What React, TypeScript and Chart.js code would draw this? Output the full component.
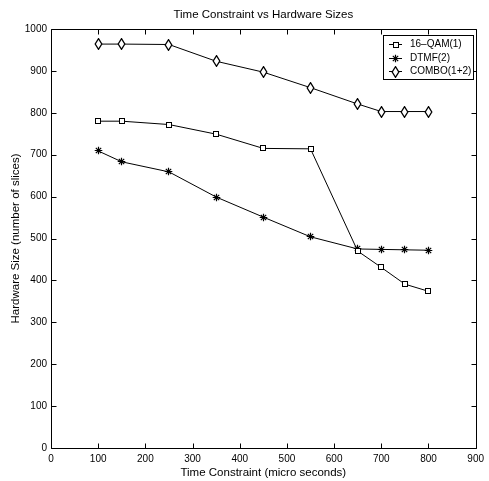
import React, { useEffect, useRef } from 'react';
import { Chart, registerables } from 'chart.js';

Chart.register(...registerables);

const xValues = [100, 150, 250, 350, 450, 550, 650, 700, 750, 800];
const qamValues = [780, 780, 772, 749, 715, 714, 470, 431, 391, 374];
const dtmfValues = [709, 683, 659, 599, 551, 504, 475, 474, 473, 472];
const comboValues = [964, 964, 963, 923, 897, 860, 821, 803, 803, 803];
const seriesNames = ['16\u2013QAM(1)', 'DTMF(2)', 'COMBO(1+2)'];
const xTickValues = [0, 100, 200, 300, 400, 500, 600, 700, 800, 900];
const yTickValues = [0, 100, 200, 300, 400, 500, 600, 700, 800, 900, 1000];
const titleText = 'Time Constraint vs Hardware Sizes';
const xTitle = 'Time Constraint (micro seconds)';
const yTitle = 'Hardware Size (number of slices)';

const FONT = '"Liberation Sans", Arial, Helvetica, sans-serif';

function makeSquare(): HTMLCanvasElement {
  const c = document.createElement('canvas');
  c.width = 8; c.height = 8;
  const g = c.getContext('2d')!;
  g.fillStyle = '#fff';
  g.fillRect(1, 1, 6, 6);
  g.strokeStyle = '#000';
  g.lineWidth = 1;
  g.strokeRect(1.5, 1.5, 5, 5);
  return c;
}

function makeStar(): HTMLCanvasElement {
  const c = document.createElement('canvas');
  c.width = 9; c.height = 9;
  const g = c.getContext('2d')!;
  g.strokeStyle = '#000';
  g.lineWidth = 1.2;
  const cx = 4.5, cy = 4.5, r = 3.8;
  g.beginPath();
  for (let k = 0; k < 4; k++) {
    const a = (k * Math.PI) / 4;
    g.moveTo(cx - r * Math.cos(a), cy - r * Math.sin(a));
    g.lineTo(cx + r * Math.cos(a), cy + r * Math.sin(a));
  }
  g.stroke();
  return c;
}

function makeDiamond(): HTMLCanvasElement {
  const c = document.createElement('canvas');
  c.width = 9; c.height = 12;
  const g = c.getContext('2d')!;
  g.beginPath();
  g.moveTo(4.5, 0.7);
  g.lineTo(7.8, 6);
  g.lineTo(4.5, 11.3);
  g.lineTo(1.2, 6);
  g.closePath();
  g.fillStyle = '#fff';
  g.fill();
  g.strokeStyle = '#000';
  g.lineWidth = 1.3;
  g.stroke();
  return c;
}

export default function App() {
  const ref = useRef<HTMLCanvasElement | null>(null);

  useEffect(() => {
    const canvas = ref.current;
    if (!canvas) return;
    const markers = [makeSquare(), makeStar(), makeDiamond()];

    const framePlugin = {
      id: 'frame',
      beforeDatasetsDraw(chart: any) {
        const { ctx, chartArea, scales } = chart;
        const { left, right, top, bottom } = chartArea;
        ctx.save();
        ctx.strokeStyle = '#000';
        ctx.lineWidth = 1;
        ctx.beginPath();
        const L = Math.round(left) + 0.5, R = Math.round(right) + 0.5;
        const T = Math.round(top) + 0.5, B = Math.round(bottom) + 0.5;
        ctx.rect(L, T, R - L, B - T);
        const tl = 5;
        xTickValues.forEach((v) => {
          const px = Math.round(scales.x.getPixelForValue(v)) + 0.5;
          ctx.moveTo(px, B); ctx.lineTo(px, B - tl);
          ctx.moveTo(px, T); ctx.lineTo(px, T + tl);
        });
        yTickValues.forEach((v) => {
          const py = Math.round(scales.y.getPixelForValue(v)) + 0.5;
          ctx.moveTo(L, py); ctx.lineTo(L + tl, py);
          ctx.moveTo(R, py); ctx.lineTo(R - tl, py);
        });
        ctx.stroke();
        ctx.restore();
        ctx.imageSmoothingEnabled = false;
      },
      afterDatasetsDraw(chart: any) {
        chart.ctx.imageSmoothingEnabled = true;
      },
      afterDraw(chart: any) {
        const { ctx, chartArea } = chart;
        ctx.save();
        ctx.fillStyle = '#000';
        ctx.font = `11.5px ${FONT}`;
        ctx.textAlign = 'center';
        ctx.textBaseline = 'middle';
        ctx.fillText(titleText, (chartArea.left + chartArea.right) / 2, 15);
        const bx = 383.5, by = 35.5, bw = 90, bh = 44;
        ctx.fillStyle = '#fff';
        ctx.fillRect(bx, by, bw, bh);
        ctx.strokeStyle = '#000';
        ctx.lineWidth = 1;
        ctx.strokeRect(bx, by, bw, bh);
        const rows = [44, 57.5, 70.5];
        ctx.font = `10px ${FONT}`;
        ctx.textAlign = 'left';
        ctx.imageSmoothingEnabled = false;
        rows.forEach((ry, i) => {
          const y = Math.round(ry) + 0.5;
          ctx.beginPath();
          ctx.moveTo(389, y);
          ctx.lineTo(402, y);
          ctx.stroke();
          const m = markers[i];
          ctx.drawImage(m, Math.round(395.5 - m.width / 2), Math.round(y - m.height / 2));
          ctx.fillStyle = '#000';
          ctx.fillText(seriesNames[i], 410, y);
        });
        ctx.restore();
      },
    };

    const mk = (label: string, data: number[], i: number) => ({
      label,
      data: xValues.map((x, k) => ({ x, y: data[k] })),
      borderColor: '#000',
      backgroundColor: '#fff',
      borderWidth: 1,
      pointStyle: markers[i],
      pointRadius: 4,
      pointHoverRadius: 4,
      tension: 0,
      fill: false,
    });

    const chart = new Chart(canvas, {
      type: 'line',
      data: {
        datasets: [
          mk(seriesNames[0], qamValues, 0),
          mk(seriesNames[1], dtmfValues, 1),
          mk(seriesNames[2], comboValues, 2),
        ],
      },
      plugins: [framePlugin],
      options: {
        animation: false,
        responsive: false,
        devicePixelRatio: 1,
        events: [],
        layout: { padding: { top: 29, right: 12, left: 0, bottom: 0 } },
        plugins: {
          legend: { display: false },
          title: { display: false },
          tooltip: { enabled: false },
        },
        scales: {
          x: {
            type: 'linear',
            min: 0,
            max: 900,
            afterBuildTicks: (s: any) => { s.ticks = xTickValues.map((v) => ({ value: v })); },
            afterFit: (s: any) => { s.height = 33; },
            grid: { display: false, drawTicks: false },
            border: { display: false },
            ticks: { color: '#000', font: { size: 10, family: FONT }, padding: 5, maxRotation: 0, autoSkip: false, callback: (v: any) => String(v) },
            title: { display: true, text: xTitle, color: '#000', font: { size: 11.5, family: FONT }, padding: { top: 0, bottom: 1 } },
          },
          y: {
            type: 'linear',
            min: 0,
            max: 1000,
            afterBuildTicks: (s: any) => { s.ticks = yTickValues.map((v) => ({ value: v })); },
            afterFit: (s: any) => { s.width = 51; },
            grid: { display: false, drawTicks: false },
            border: { display: false },
            ticks: { color: '#000', font: { size: 10, family: FONT }, padding: 4, autoSkip: false, callback: (v: any) => String(v) },
            title: { display: true, text: yTitle, color: '#000', font: { size: 11.5, family: FONT }, padding: { top: 9, bottom: 0 } },
          },
        },
      } as any,
    });
    return () => chart.destroy();
  }, []);

  return (
    <div style={{ position: 'absolute', left: 0, top: 0, width: 489, height: 481, background: '#fff' }}>
      <canvas ref={ref} width={489} height={481} style={{ display: 'block' }} />
    </div>
  );
}
